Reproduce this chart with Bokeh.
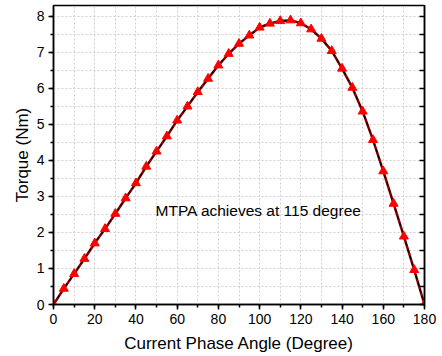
from bokeh.plotting import figure
from bokeh.models import (LinearAxis, SingleIntervalTicker, Range1d, Label,
                          CustomJSTickFormatter)
from bokeh.embed import file_html
from bokeh.resources import INLINE

# Torque versus current phase angle
angle_deg = [0, 5, 10, 15, 20, 25, 30, 35, 40, 45, 50, 55, 60, 65, 70, 75, 80, 85, 90,
             95, 100, 105, 110, 115, 120, 125, 130, 135, 140, 145, 150, 155, 160, 165,
             170, 175, 180]
torque_nm = [0.0, 0.44, 0.85, 1.27, 1.70, 2.10, 2.52, 2.95, 3.37, 3.83, 4.25, 4.67, 5.11,
             5.50, 5.90, 6.27, 6.64, 6.96, 7.24, 7.47, 7.69, 7.80, 7.87, 7.89, 7.81, 7.64,
             7.38, 7.04, 6.55, 6.02, 5.36, 4.57, 3.70, 2.80, 1.89, 0.96, 0.0]

FONT = "Liberation Sans"

p = figure(frame_width=371, frame_height=299, output_backend="svg", toolbar_location=None,
           x_range=Range1d(0, 180), y_range=Range1d(0, 8.3),
           min_border_left=53, min_border_right=18, min_border_top=5, min_border_bottom=52)

p.outline_line_color = "black"
p.outline_line_width = 1.5

# grid
p.xgrid.ticker = SingleIntervalTicker(interval=10)
p.ygrid.ticker = SingleIntervalTicker(interval=0.5)
for g in (p.xgrid, p.ygrid):
    g.grid_line_color = "#cfcfcf"
    g.grid_line_dash = "2 2"
    g.grid_line_width = 1

# bottom axis
xa = p.xaxis[0]
xa.ticker = SingleIntervalTicker(interval=20, num_minor_ticks=2)
xa.axis_label = "Current Phase Angle (Degree)"
# left axis
ya = p.yaxis[0]
ya.ticker = SingleIntervalTicker(interval=1, num_minor_ticks=2)
ya.axis_label = "Torque (Nm)"

for ax in (xa, ya):
    ax.axis_line_width = 1.5
    ax.axis_line_color = "black"
    ax.major_tick_in = 0
    ax.major_tick_out = 5
    ax.minor_tick_in = 0
    ax.minor_tick_out = 3
    ax.major_tick_line_width = 1.5
    ax.minor_tick_line_width = 1.5
    ax.major_label_text_font = FONT
    ax.major_label_text_font_size = "14px"
    ax.major_label_text_color = "black"
    ax.axis_label_text_font = FONT
    ax.axis_label_text_font_size = "17px"
    ax.axis_label_text_font_style = "normal"
    ax.axis_label_text_color = "black"
    ax.major_label_standoff = 4
xa.axis_label_standoff = 7
ya.axis_label_standoff = 2

# right axis: inward ticks only, no labels
ra = LinearAxis(ticker=SingleIntervalTicker(interval=0.5, num_minor_ticks=0),
                formatter=CustomJSTickFormatter(code="return ''"))
ra.major_tick_in = 5
ra.major_tick_out = 0
ra.minor_tick_in = 0
ra.minor_tick_out = 0
ra.major_tick_line_width = 1.5
ra.axis_line_width = 1.5
ra.major_label_standoff = 0
p.add_layout(ra, "right")

# curve: dark red line with black dashes overlaid, red triangle markers
p.line(angle_deg, torque_nm, line_color="#8b0000", line_width=2.5)
p.line(angle_deg, torque_nm, line_color="black", line_width=1.2, line_dash="4 3")
p.scatter(angle_deg, torque_nm, marker="triangle", size=9, fill_color="red",
          line_color="red")

p.add_layout(Label(x=49.5, y=2.61, text="MTPA achieves at 115 degree",
                   text_font=FONT, text_font_size="15.5px", text_color="black",
                   text_baseline="middle"))

open("out.html", "w").write(file_html(p, INLINE))
